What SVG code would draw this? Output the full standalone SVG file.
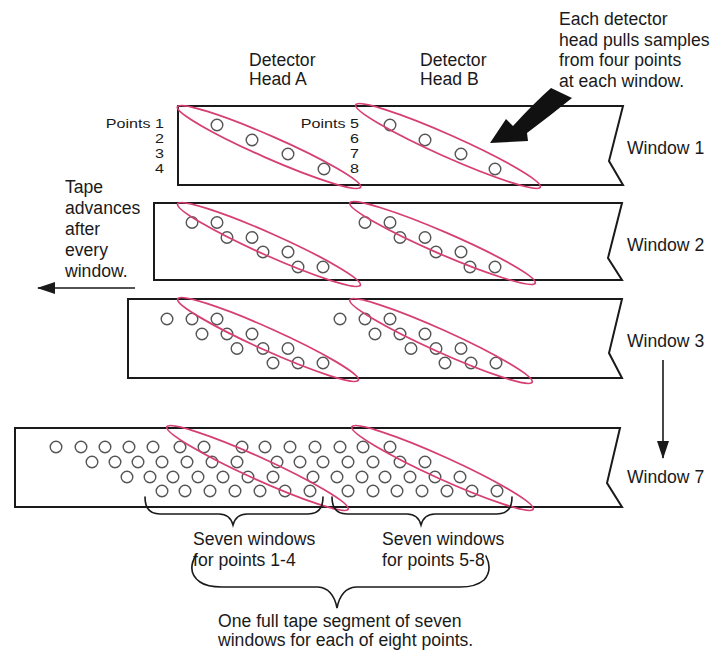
<svg xmlns="http://www.w3.org/2000/svg" width="722" height="651" viewBox="0 0 722 651">
<style>
text{font-family:"Liberation Sans",Arial,sans-serif;font-size:17.6px;fill:#1a1a1a}
.pl{font-size:13.2px;text-anchor:end}
.tape{fill:#fff;stroke:#1a1a1a;stroke-width:2;stroke-linejoin:miter}
.pt{fill:none;stroke:#555;stroke-width:1.4}
.head{fill:none;stroke:#d63f72;stroke-width:1.8}
.ln{fill:none;stroke:#1a1a1a;stroke-width:1.6}
.br{fill:none;stroke:#1a1a1a;stroke-width:1.6;stroke-linecap:round}
</style>
<defs>
<marker id="ah" viewBox="0 0 18 12" refX="17" refY="6" markerWidth="18" markerHeight="12" markerUnits="userSpaceOnUse" orient="auto">
<path d="M0,0 L18,6 L0,12 Z" fill="#1a1a1a"/>
</marker>
</defs>
<rect width="722" height="651" fill="#fff"/>

<g id="window1">
<path class="tape" d="M178,106 L623,106 L609,161 L623,185 L178,185 Z"/>
<g class="pts">
<circle class="pt" cx="217" cy="125" r="5.8"/><circle class="pt" cx="252" cy="140" r="5.8"/><circle class="pt" cx="288" cy="154" r="5.8"/><circle class="pt" cx="324" cy="169" r="5.8"/>
<circle class="pt" cx="390" cy="125" r="5.8"/><circle class="pt" cx="425" cy="140" r="5.8"/><circle class="pt" cx="461" cy="154" r="5.8"/><circle class="pt" cx="495" cy="169" r="5.8"/>
</g>
<ellipse class="head" cx="269" cy="147" rx="100" ry="11" transform="rotate(23.7 269 147)"/>
<ellipse class="head" cx="448" cy="146" rx="101" ry="11" transform="rotate(24 448 146)"/>
<text x="627" y="154">Window 1</text>
</g>

<g id="window2">
<path class="tape" d="M154,203 L622,203 L608,258 L622,280 L154,280 Z"/>
<g class="pts">
<circle class="pt" cx="192" cy="222.5" r="5.8"/><circle class="pt" cx="217" cy="222.5" r="5.8"/><circle class="pt" cx="227" cy="237.5" r="5.8"/><circle class="pt" cx="252" cy="237.5" r="5.8"/>
<circle class="pt" cx="263" cy="252" r="5.8"/><circle class="pt" cx="288" cy="252" r="5.8"/><circle class="pt" cx="298" cy="267" r="5.8"/><circle class="pt" cx="323" cy="267" r="5.8"/>
<circle class="pt" cx="365" cy="222.5" r="5.8"/><circle class="pt" cx="390" cy="222.5" r="5.8"/><circle class="pt" cx="400" cy="237.5" r="5.8"/><circle class="pt" cx="425" cy="237.5" r="5.8"/>
<circle class="pt" cx="436" cy="252" r="5.8"/><circle class="pt" cx="461" cy="252" r="5.8"/><circle class="pt" cx="470" cy="267" r="5.8"/><circle class="pt" cx="495" cy="267" r="5.8"/>
</g>
<ellipse class="head" cx="269" cy="244.5" rx="100" ry="11" transform="rotate(24 269 244.5)"/>
<ellipse class="head" cx="442.5" cy="243" rx="101" ry="11" transform="rotate(23.4 442.5 243)"/>
<text x="627" y="251">Window 2</text>
</g>

<g id="window3">
<path class="tape" d="M128,299 L622,299 L609,353 L622,378 L128,378 Z"/>
<g class="pts">
<circle class="pt" cx="167" cy="319" r="5.8"/><circle class="pt" cx="192" cy="319" r="5.8"/><circle class="pt" cx="217" cy="319" r="5.8"/>
<circle class="pt" cx="202" cy="334" r="5.8"/><circle class="pt" cx="227" cy="334" r="5.8"/><circle class="pt" cx="252" cy="334" r="5.8"/>
<circle class="pt" cx="237" cy="348.5" r="5.8"/><circle class="pt" cx="263" cy="348.5" r="5.8"/><circle class="pt" cx="288" cy="348.5" r="5.8"/>
<circle class="pt" cx="273" cy="363" r="5.8"/><circle class="pt" cx="298" cy="363" r="5.8"/><circle class="pt" cx="323" cy="363" r="5.8"/>
<circle class="pt" cx="340" cy="319" r="5.8"/><circle class="pt" cx="365" cy="319" r="5.8"/><circle class="pt" cx="390" cy="319" r="5.8"/>
<circle class="pt" cx="375" cy="334" r="5.8"/><circle class="pt" cx="400" cy="334" r="5.8"/><circle class="pt" cx="425" cy="334" r="5.8"/>
<circle class="pt" cx="411" cy="348.5" r="5.8"/><circle class="pt" cx="436" cy="348.5" r="5.8"/><circle class="pt" cx="461" cy="348.5" r="5.8"/>
<circle class="pt" cx="445" cy="363" r="5.8"/><circle class="pt" cx="471" cy="363" r="5.8"/><circle class="pt" cx="496" cy="363" r="5.8"/>
</g>
<ellipse class="head" cx="268" cy="339.5" rx="99" ry="11" transform="rotate(24.2 268 339.5)"/>
<ellipse class="head" cx="441" cy="341" rx="100" ry="11" transform="rotate(24.3 441 341)"/>
<text x="627" y="347">Window 3</text>
</g>

<g id="window7">
<path class="tape" d="M15,428 L620,428 L607,483 L622,507 L15,507 Z"/>
<g class="pts">
<circle class="pt" cx="56" cy="447" r="5.8"/><circle class="pt" cx="81" cy="447" r="5.8"/><circle class="pt" cx="105" cy="447" r="5.8"/><circle class="pt" cx="129" cy="447" r="5.8"/><circle class="pt" cx="153" cy="447" r="5.8"/><circle class="pt" cx="180" cy="447" r="5.8"/><circle class="pt" cx="204" cy="447" r="5.8"/>
<circle class="pt" cx="92" cy="462" r="5.8"/><circle class="pt" cx="115" cy="462" r="5.8"/><circle class="pt" cx="138" cy="462" r="5.8"/><circle class="pt" cx="162" cy="462" r="5.8"/><circle class="pt" cx="187" cy="462" r="5.8"/><circle class="pt" cx="212" cy="462" r="5.8"/><circle class="pt" cx="237" cy="462" r="5.8"/>
<circle class="pt" cx="127" cy="477" r="5.8"/><circle class="pt" cx="150" cy="477" r="5.8"/><circle class="pt" cx="173" cy="477" r="5.8"/><circle class="pt" cx="198" cy="477" r="5.8"/><circle class="pt" cx="223" cy="477" r="5.8"/><circle class="pt" cx="248" cy="477" r="5.8"/><circle class="pt" cx="273" cy="477" r="5.8"/>
<circle class="pt" cx="162" cy="491" r="5.8"/><circle class="pt" cx="185" cy="491" r="5.8"/><circle class="pt" cx="210" cy="491" r="5.8"/><circle class="pt" cx="235" cy="491" r="5.8"/><circle class="pt" cx="260" cy="491" r="5.8"/><circle class="pt" cx="285" cy="491" r="5.8"/><circle class="pt" cx="310" cy="491" r="5.8"/>
<circle class="pt" cx="242" cy="447" r="5.8"/><circle class="pt" cx="265" cy="447" r="5.8"/><circle class="pt" cx="290" cy="447" r="5.8"/><circle class="pt" cx="315" cy="447" r="5.8"/><circle class="pt" cx="340" cy="447" r="5.8"/><circle class="pt" cx="363" cy="447" r="5.8"/><circle class="pt" cx="390" cy="447" r="5.8"/>
<circle class="pt" cx="277" cy="462" r="5.8"/><circle class="pt" cx="300" cy="462" r="5.8"/><circle class="pt" cx="323" cy="462" r="5.8"/><circle class="pt" cx="348" cy="462" r="5.8"/><circle class="pt" cx="373" cy="462" r="5.8"/><circle class="pt" cx="400" cy="462" r="5.8"/><circle class="pt" cx="425" cy="462" r="5.8"/>
<circle class="pt" cx="313" cy="477" r="5.8"/><circle class="pt" cx="337" cy="477" r="5.8"/><circle class="pt" cx="362" cy="477" r="5.8"/><circle class="pt" cx="385" cy="477" r="5.8"/><circle class="pt" cx="410" cy="477" r="5.8"/><circle class="pt" cx="435" cy="477" r="5.8"/><circle class="pt" cx="460" cy="477" r="5.8"/>
<circle class="pt" cx="348" cy="491" r="5.8"/><circle class="pt" cx="373" cy="491" r="5.8"/><circle class="pt" cx="397" cy="491" r="5.8"/><circle class="pt" cx="422" cy="491" r="5.8"/><circle class="pt" cx="447" cy="491" r="5.8"/><circle class="pt" cx="472" cy="491" r="5.8"/><circle class="pt" cx="497" cy="491" r="5.8"/>
</g>
<ellipse class="head" cx="257.5" cy="468" rx="99.5" ry="11" transform="rotate(24.4 257.5 468)"/>
<ellipse class="head" cx="442.5" cy="468" rx="99.5" ry="11" transform="rotate(24.4 442.5 468)"/>
<text x="627" y="483">Window 7</text>
</g>

<g id="labels">
<text x="249" y="66">Detector</text>
<text x="249" y="85">Head A</text>
<text x="420" y="66">Detector</text>
<text x="420" y="85">Head B</text>
<text x="559" y="25">Each detector</text>
<text x="559" y="46">head pulls samples</text>
<text x="559" y="66">from four points</text>
<text x="559" y="87">at each window.</text>
<g transform="translate(164,0) scale(1.22,1)">
<text class="pl" x="0" y="128.5">Points 1</text>
<text class="pl" x="0" y="143.2">2</text>
<text class="pl" x="0" y="157.9">3</text>
<text class="pl" x="0" y="172.6">4</text>
</g>
<g transform="translate(359,0) scale(1.22,1)">
<text class="pl" x="0" y="128.5">Points 5</text>
<text class="pl" x="0" y="143.2">6</text>
<text class="pl" x="0" y="157.9">7</text>
<text class="pl" x="0" y="172.6">8</text>
</g>
<text x="65" y="193">Tape</text>
<text x="65" y="214">advances</text>
<text x="65" y="235">after</text>
<text x="65" y="256">every</text>
<text x="65" y="277">window.</text>
<text x="193" y="545">Seven windows</text>
<text x="193" y="566">for points 1-4</text>
<text x="382" y="545">Seven windows</text>
<text x="382" y="566">for points 5-8</text>
<text x="218" y="627">One full tape segment of seven</text>
<text x="218" y="646">windows for each of eight points.</text>
</g>

<g id="connectors">
<path d="M551,88 L572,98 Q551,115 527,133 L528,141 L490,143 L506,119 L513,126 Q533,104 551,88 Z" fill="#111"/>
<line class="ln" x1="135" y1="288" x2="38" y2="288" marker-end="url(#ah)"/>
<line class="ln" x1="663" y1="360" x2="663" y2="458" marker-end="url(#ah)"/>
<path class="br" d="M145,497 Q145,514 160,514 L219,514 Q230,514 233,525 Q236,514 247,514 L308,514 Q323,514 323,497"/>
<path class="br" d="M332,497 Q332,514 347,514 L407,514 Q418,514 421,525 Q424,514 435,514 L497,514 Q512,514 512,497"/>
<path class="br" d="M196,555 Q186,572 200,582 Q207,587 222,587 L318,587 Q333,588 337,608 Q341,588 356,587 L460,587 Q476,587 484,580 Q493,570 486,556"/>
</g>
</svg>
